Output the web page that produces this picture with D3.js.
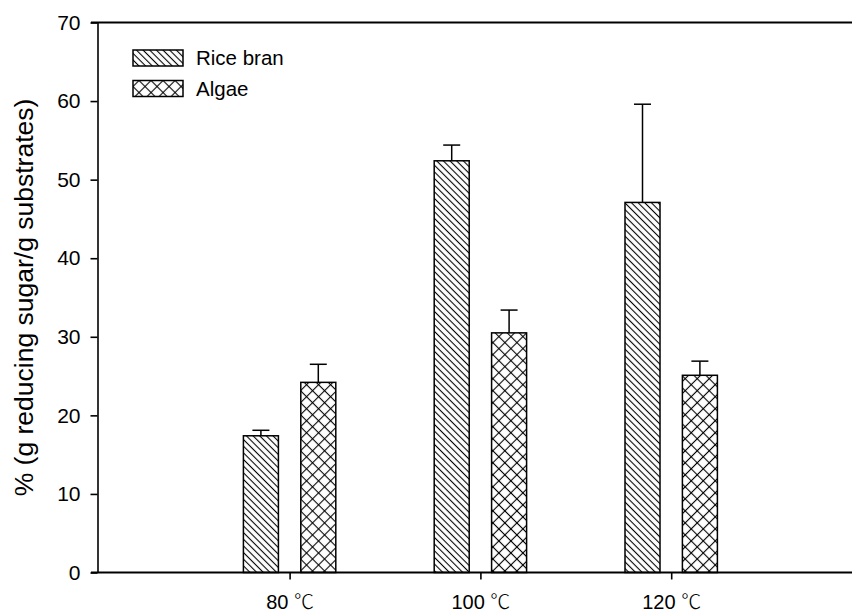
<!DOCTYPE html>
<html>
<head>
<meta charset="utf-8">
<script src="https://cdn.jsdelivr.net/npm/d3@7"></script>
<style>
  body { margin: 0; background: #fff; }
  svg { display: block; }
  text { font-family: "Liberation Sans", Arial, "Noto Sans CJK TC", sans-serif; fill: #000; }
  .cjk { font-family: "Noto Sans CJK TC", "Noto Sans CJK SC", sans-serif; font-weight: 300; }
</style>
</head>
<body>
<svg id="chart" width="852" height="614"></svg>
<script>
// Reducing sugar yield by pretreatment temperature
const categories = ["80 ℃", "100 ℃", "120 ℃"];
const seriesNames = ["Rice bran", "Algae"];
const riceBran = [17.4, 52.4, 47.1];
const riceBranErr = [0.7, 2.0, 12.5];
const algae = [24.2, 30.5, 25.1];
const algaeErr = [2.3, 2.9, 1.8];
const yTicks = [0, 10, 20, 30, 40, 50, 60, 70];
const yLabel = "% (g reducing sugar/g substrates)";

const svg = d3.select("#chart");

const y = d3.scaleLinear().domain([0, 70]).range([572.5, 22.5]);
const x = d3.scalePoint().domain(categories).range([289.6, 671.2]);
const xs = d3.scaleBand().domain(seriesNames).range([-46.2, 46.2]).paddingInner(0.39);

// hatch fills
const defs = svg.append("defs");
const diag = defs.append("pattern")
  .attr("id", "hatch-rice").attr("patternUnits", "userSpaceOnUse")
  .attr("width", 4.7).attr("height", 4.7)
  .attr("patternTransform", "rotate(45)");
diag.append("rect").attr("width", 4.7).attr("height", 4.7).attr("fill", "#fff");
diag.append("line").attr("x1", 0).attr("x2", 4.7).attr("y1", 2.35).attr("y2", 2.35)
  .attr("stroke", "#000").attr("stroke-width", 1.1);

const cross = defs.append("pattern")
  .attr("id", "hatch-algae").attr("patternUnits", "userSpaceOnUse")
  .attr("width", 8.5).attr("height", 8.5)
  .attr("patternTransform", "rotate(45)");
cross.append("rect").attr("width", 8.5).attr("height", 8.5).attr("fill", "#fff");
cross.append("line").attr("x1", 0).attr("x2", 8.5).attr("y1", 4.25).attr("y2", 4.25)
  .attr("stroke", "#000").attr("stroke-width", 1.1);
cross.append("line").attr("y1", 0).attr("y2", 8.5).attr("x1", 4.25).attr("x2", 4.25)
  .attr("stroke", "#000").attr("stroke-width", 1.1);

const fills = { "Rice bran": "url(#hatch-rice)", "Algae": "url(#hatch-algae)" };

const series = [
  { name: "Rice bran", values: riceBran, errs: riceBranErr },
  { name: "Algae", values: algae, errs: algaeErr }
];

const data = series.flatMap(s => categories.map((c, i) => ({
  series: s.name, cat: c, value: s.values[i], err: s.errs[i]
})));

// bars
svg.append("g").selectAll("rect").data(data).join("rect")
  .attr("x", d => x(d.cat) + xs(d.series))
  .attr("width", xs.bandwidth())
  .attr("y", d => y(d.value))
  .attr("height", d => y(0) - y(d.value))
  .attr("fill", d => fills[d.series])
  .attr("stroke", "#000").attr("stroke-width", 1.5);

// upper error bars
const eb = svg.append("g").attr("stroke", "#000").attr("stroke-width", 1.5);
const cx = d => x(d.cat) + xs(d.series) + xs.bandwidth() / 2;
eb.selectAll("line.v").data(data).join("line").attr("class", "v")
  .attr("x1", cx).attr("x2", cx)
  .attr("y1", d => y(d.value)).attr("y2", d => y(d.value + d.err));
eb.selectAll("line.c").data(data).join("line").attr("class", "c")
  .attr("x1", d => cx(d) - 8.5).attr("x2", d => cx(d) + 8.5)
  .attr("y1", d => y(d.value + d.err)).attr("y2", d => y(d.value + d.err));

// y axis
const yAxis = svg.append("g").attr("transform", "translate(97.5,0)")
  .call(d3.axisLeft(y).tickValues(yTicks).tickSize(7).tickSizeOuter(0).tickPadding(10));
yAxis.selectAll("path, line").attr("stroke", "#000").attr("stroke-width", 1.6);
yAxis.selectAll("text").attr("font-family", null).style("font-size", "21px").attr("fill", "#000");

// x axis; the degree sign is set in a CJK face
const xAxis = svg.append("g").attr("transform", `translate(0,${y(0)})`)
  .call(d3.axisBottom(x).tickSize(7).tickSizeOuter(0).tickPadding(15));
xAxis.select(".domain").remove();
xAxis.selectAll("line").attr("stroke", "#000").attr("stroke-width", 1.6);
xAxis.selectAll("text").style("font-size", "20px").attr("fill", "#000")
  .each(function (d) {
    const [num, unit] = d.split(" ");
    const t = d3.select(this).text(null);
    t.append("tspan").text(num + " ");
    t.append("tspan").attr("class", "cjk").text(unit);
  });

// frame lines along bottom and top
svg.append("line").attr("x1", 91).attr("x2", 852).attr("y1", y(0)).attr("y2", y(0))
  .attr("stroke", "#000").attr("stroke-width", 1.8);
svg.append("line").attr("x1", 91).attr("x2", 852).attr("y1", y(70)).attr("y2", y(70))
  .attr("stroke", "#000").attr("stroke-width", 1.8);

// y axis title
svg.append("text")
  .attr("transform", `translate(33,${(y(0) + y(70)) / 2}) rotate(-90)`)
  .attr("text-anchor", "middle")
  .style("font-size", "26.5px")
  .text(yLabel);

// legend
const legend = svg.append("g");
seriesNames.forEach((name, i) => {
  const g = legend.append("g").attr("transform", `translate(133,${50 + i * 30.5})`);
  g.append("rect").attr("width", 50).attr("height", 16)
    .attr("fill", fills[name]).attr("stroke", "#000").attr("stroke-width", 1.5);
  g.append("text").attr("x", 63).attr("y", 15).style("font-size", "20.5px").text(name);
});
</script>
</body>
</html>
